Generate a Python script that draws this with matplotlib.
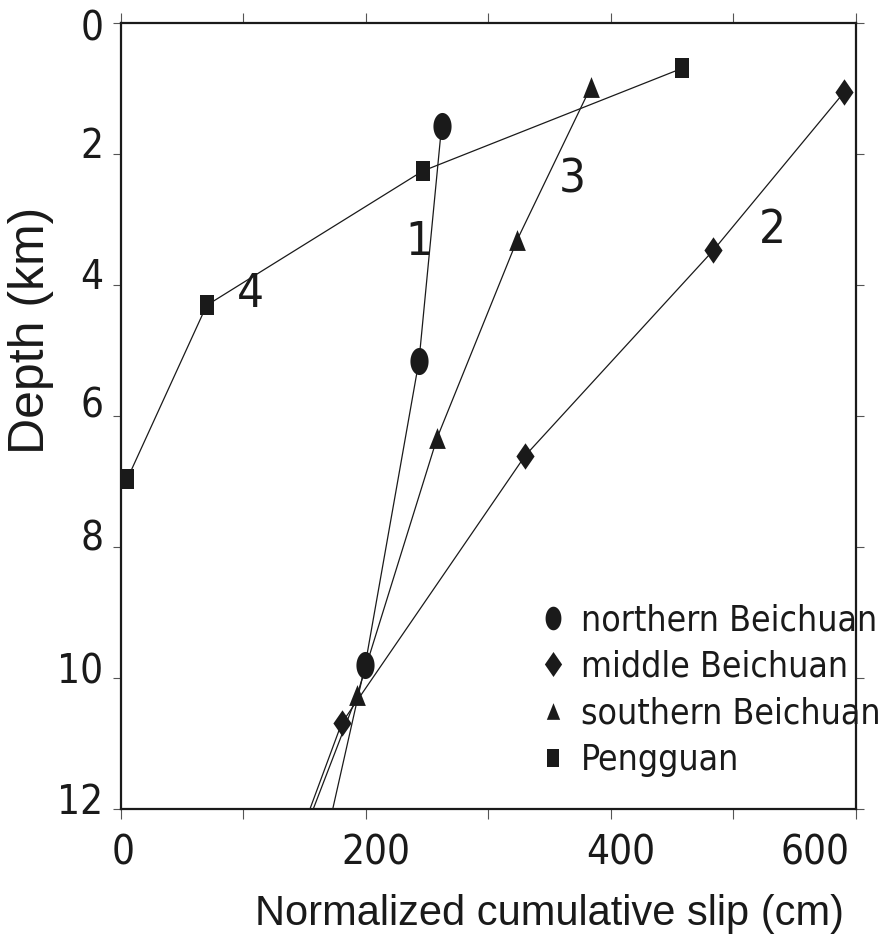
import numpy as np
import matplotlib
matplotlib.use("Agg")
import matplotlib.pyplot as plt
import matplotlib.transforms as mtransforms
from matplotlib.path import Path
from matplotlib.lines import Line2D
from matplotlib.font_manager import FontProperties

# Normalized cumulative slip (cm) against depth (km) for each fault segment.
# The last entry of each profile is where the line leaves the plot (no marker).
north_slip = [262.0, 243.5, 199.6, 173.1]
north_depth = [1.57, 5.16, 9.80, 12.0]

middle_slip = [590.4, 483.8, 330.0, 180.4, 154.5]
middle_depth = [1.06, 3.47, 6.61, 10.69, 12.0]

south_slip = [383.7, 323.7, 258.4, 193.0, 157.2]
south_depth = [0.98, 3.31, 6.33, 10.26, 12.0]

peng_slip = [458.5, 246.5, 70.2, 5.4]
peng_depth = [0.69, 2.26, 4.31, 6.96]

series_names = ["northern Beichuan", "middle Beichuan", "southern Beichuan", "Pengguan"]

# profile numbers and their anchor positions (slip, depth)
curve_ids = ["1", "2", "3", "4"]
curve_id_slip = [243.5, 532.0, 368.8, 105.6]
curve_id_depth = [3.35, 3.16, 2.40, 4.15]

x_ticks = [0, 100, 200, 300, 400, 500, 600]
x_tick_labels = ["0", "", "200", "", "400", "", "600"]
y_ticks = [0, 2, 4, 6, 8, 10, 12]

INK = "#1a1a1a"
REGULAR = ["Liberation Sans", "DejaVu Sans"]
plt.rcParams["font.family"] = REGULAR

COND = ["DejaVu Sans", "Liberation Sans"]
tick_font = FontProperties(family=COND, stretch="condensed", size=29)
id_font = FontProperties(family=COND, stretch="condensed", size=34)
legend_font = FontProperties(family=COND, stretch="condensed", size=25.5)


def tall_marker(kind, squeeze):
    """Filled marker path, narrowed horizontally by `squeeze`."""
    if kind == "ellipse":
        t = np.linspace(0, 2 * np.pi, 64)
        verts = np.column_stack([squeeze * np.cos(t), np.sin(t)])
    elif kind == "diamond":
        verts = np.array([[0, 1], [-squeeze, 0], [0, -1], [squeeze, 0], [0, 1]])
    elif kind == "triangle":
        verts = np.array([[0, 1], [-squeeze, -1], [squeeze, -1], [0, 1]])
    else:
        verts = np.array([[-squeeze, -1], [squeeze, -1], [squeeze, 1], [-squeeze, 1], [-squeeze, -1]])
    codes = [Path.MOVETO] + [Path.LINETO] * (len(verts) - 2) + [Path.CLOSEPOLY]
    return Path(verts, codes)


m_circle = tall_marker("ellipse", 0.67)
m_diamond = tall_marker("diamond", 0.69)
m_triangle = tall_marker("triangle", 0.80)
m_square = tall_marker("square", 0.65)

fig = plt.figure(figsize=(8.88, 9.52), dpi=100)
ax = fig.add_axes([0.1359, 0.1502, 0.8277, 0.8256])

line_kw = dict(color=INK, lw=0.9, markerfacecolor=INK, markeredgecolor=INK, markeredgewidth=0)
ax.plot(north_slip, north_depth, marker=m_circle, ms=19.5, markevery=slice(0, 3), **line_kw)
ax.plot(middle_slip, middle_depth, marker=m_diamond, ms=19.0, markevery=slice(0, 4), **line_kw)
ax.plot(south_slip, south_depth, marker=m_triangle, ms=15.0, markevery=slice(0, 4), **line_kw)
ax.plot(peng_slip, peng_depth, marker=m_square, ms=14.5, **line_kw)

for s, x, y in zip(curve_ids, curve_id_slip, curve_id_depth):
    ax.text(x, y, s, fontproperties=id_font, ha="center", va="center", color=INK)

ax.set_xlim(0, 600)
ax.set_ylim(12, 0)
ax.set_xticks(x_ticks)
ax.set_xticklabels(x_tick_labels, fontproperties=tick_font)
ax.set_yticks(y_ticks)
ax.set_yticklabels([str(v) for v in y_ticks], fontproperties=tick_font)

for sp in ax.spines.values():
    sp.set_linewidth(1.6)
    sp.set_color(INK)

ax.tick_params(axis="x", which="both", direction="out", top=True, bottom=True,
               length=7.5, width=0.8, color="#555555", pad=10, labelcolor=INK)
ax.tick_params(axis="y", which="both", direction="out", left=True, right=True,
               length=5.5, width=0.8, color="#555555", pad=7, labelcolor=INK)

# small nudges of the tick labels, in pixels
px = 1.0 / 100
for lab, dx in zip(ax.get_xticklabels(), [2, 0, 10, 0, 10, 0, 0]):
    lab.set_transform(lab.get_transform()
                      + mtransforms.ScaledTranslation(dx * px, 0, fig.dpi_scale_trans))
ax.get_xticklabels()[-1].set_horizontalalignment("right")
ax.get_xticklabels()[-1].set_transform(
    ax.get_xticklabels()[-1].get_transform()
    + mtransforms.ScaledTranslation(-6 * px, 0, fig.dpi_scale_trans))
for lab, dy in zip(ax.get_yticklabels(), [-2, 12, 12, 14, 12, 10, 11]):
    lab.set_transform(lab.get_transform()
                      + mtransforms.ScaledTranslation(0, dy * px, fig.dpi_scale_trans))

ax.set_xlabel("Normalized cumulative slip (cm)", fontsize=30, color=INK, va="baseline")
ax.xaxis.set_label_coords(0.584, -0.1476)
ax.set_ylabel("Depth (km)", fontsize=36, color=INK, va="center")
ax.yaxis.set_label_coords(-0.1214, 0.609)

handles = [
    Line2D([], [], ls="none", marker=m_circle, ms=17, color=INK, mew=0),
    Line2D([], [], ls="none", marker=m_diamond, ms=18, color=INK, mew=0),
    Line2D([], [], ls="none", marker=m_triangle, ms=12, color=INK, mew=0),
    Line2D([], [], ls="none", marker=m_square, ms=12.5, color=INK, mew=0),
]
leg = ax.legend(handles, series_names, loc="upper left", bbox_to_anchor=(0.574, 0.262),
                frameon=False, prop=legend_font, handlelength=0.57, handletextpad=0.52,
                labelspacing=0.36, borderpad=0.0, borderaxespad=0.0)
for t in leg.get_texts():
    t.set_color(INK)

fig.savefig("out.png", dpi=100)
